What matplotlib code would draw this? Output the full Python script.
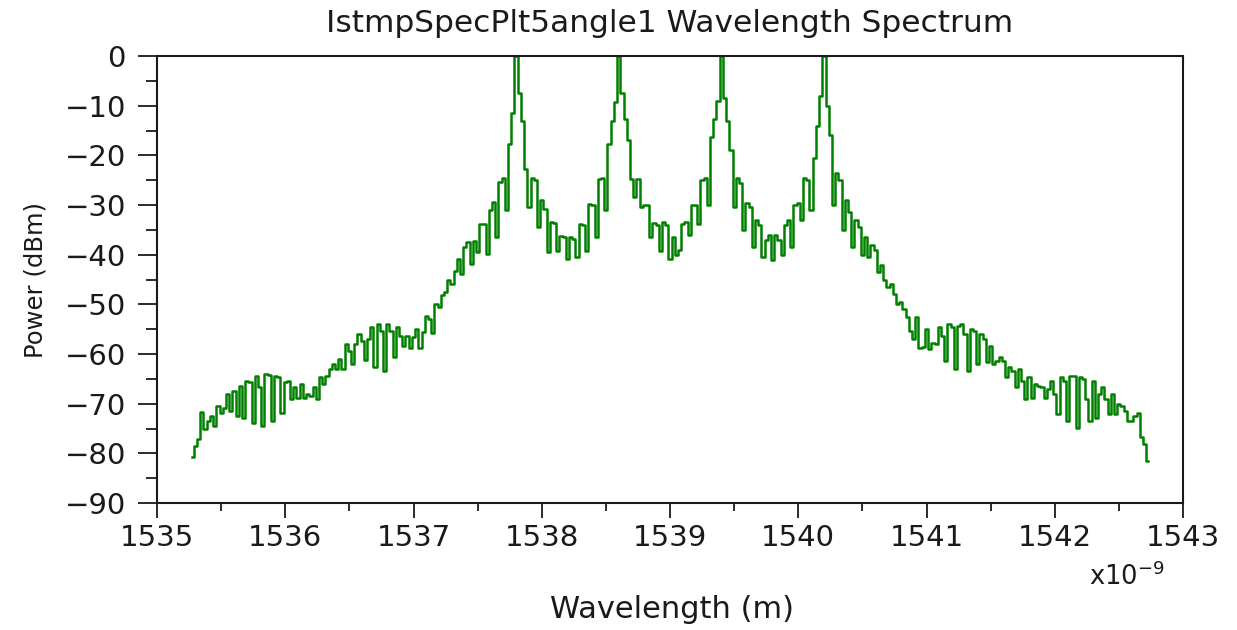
import matplotlib
matplotlib.use('Agg')
import matplotlib.pyplot as plt
import numpy as np
from matplotlib.ticker import MultipleLocator

plt.rcParams['font.family'] = ['DejaVu Sans']

# spectrum samples, 0.025 nm apart (wavelength in nm, power in dBm)
wl_start = 1535.275
wl_stop = 1542.725

power = [
    # left wing
    -80.8, -78.5, -77.1, -71.6, -75.1, -73.4, -72.4, -74.5, -70.4, -71.8,
    -70.8, -68.1, -71.4, -67.4, -72.4, -66.4, -72.8, -65.4, -65.7, -73.8,
    -64.4, -66.7, -74.5, -64.0, -64.2, -73.4, -64.4, -64.6, -71.8, -65.7,
    -65.4, -69.1, -66.7, -68.8, -66.1, -68.8, -68.1, -68.4, -66.7, -69.1,
    -64.7, -66.1,
    -64.5, -63.0, -62.0, -63.0, -61.0, -63.0, -58.0, -59.3, -62.0, -58.0,
    -56.0, -57.3, -61.3, -57.0, -54.6, -62.7, -54.0, -55.3, -63.4, -54.0,
    -55.3, -60.7, -54.6, -56.3, -58.3, -56.3, -58.7, -56.5,
    -55.0, -58.7, -55.5, -52.3, -53.0, -55.7, -49.9, -50.5, -48.2, -47.5,
    -45.2, -46.0, -43.2, -40.8, -43.8, -38.5, -37.5, -41.8, -37.2, -39.5,
    -33.8, -33.8, -39.8, -31.1, -29.4, -36.5, -25.4, -24.5, -31.1, -17.7,
    -11.5,
    # channel 1
    0.0,
    -7.5, -13.0, -22.7, -30.4, -24.6, -25.0, -34.5, -29.0, -30.8, -39.5,
    -33.5, -33.7, -39.2, -36.2, -36.5, -40.9, -36.5, -36.8, -40.5, -33.8,
    -34.0, -39.2, -29.8, -30.0, -36.5, -24.7, -24.5, -31.0, -17.7, -13.0, -9.3,
    # channel 2
    0.0,
    -7.5, -12.6, -17.0, -24.7, -28.4, -24.7, -30.4, -30.0, -30.0, -36.5,
    -33.7, -34.0, -39.2, -33.5, -34.0, -40.9, -36.5, -40.0, -39.0, -33.8,
    -33.5, -36.0, -30.0, -30.0, -33.8, -25.0, -24.5, -30.0, -16.3, -12.6, -9.0,
    # channel 3
    0.0,
    -8.5, -13.0, -19.0, -30.5, -24.5, -25.5, -35.0, -29.5, -30.5, -38.5,
    -33.0, -34.0, -40.5, -37.0, -36.0, -41.0, -36.0, -37.0, -40.0, -34.0,
    -33.0, -38.5, -30.0, -29.5, -33.0, -24.5, -25.0, -31.0, -20.5, -14.0, -8.0,
    # channel 4
    0.0,
    # right wing
    -10.0, -16.0, -30.0, -23.5, -25.0, -35.0, -29.0, -31.5, -38.5, -33.0,
    -34.5, -40.0, -36.5, -40.5, -38.0, -39.0, -43.5, -42.0,
    -45.2, -46.5, -46.0, -47.9, -49.9, -49.5, -51.0, -52.6, -55.3, -57.0,
    -52.6, -58.7, -58.5, -55.0, -59.0, -57.7, -58.0, -54.6, -56.3, -61.4,
    -54.0, -54.6, -63.0, -54.3, -54.0, -56.0, -63.4, -55.0, -55.3, -62.0,
    -56.0, -57.0, -61.7, -58.3, -62.0, -61.4, -60.7, -61.5, -64.7, -62.7,
    -63.4, -66.7, -63.0, -65.4, -69.1, -64.7, -68.8, -66.1, -66.5, -66.7,
    -68.8, -67.0, -65.4, -68.1, -72.1, -64.7, -65.4, -73.4, -64.4, -64.5,
    -74.8, -64.7, -65.0, -69.0, -73.4, -65.4, -72.8, -68.1, -66.7, -69.0,
    -72.1, -68.1, -72.1, -70.0, -70.4, -71.4, -73.4, -73.4, -72.5, -71.8,
    -76.8, -78.1, -81.5,
]

wavelength = np.linspace(wl_start, wl_stop, len(power))

fig = plt.figure(figsize=(12.37, 6.30), dpi=100)
ax = fig.add_axes([157 / 1237, 1 - 503 / 630, 1026 / 1237, 447 / 630])

ax.plot(wavelength, power, color='#008000', lw=1.8, drawstyle='steps-mid')

ax.set_xlim(1535, 1543)
ax.set_ylim(-90, 0)
ax.xaxis.set_major_locator(MultipleLocator(1))
ax.xaxis.set_minor_locator(MultipleLocator(0.5))
ax.yaxis.set_major_locator(MultipleLocator(10))
ax.yaxis.set_minor_locator(MultipleLocator(5))

for s in ax.spines.values():
    s.set_linewidth(1.5)
    s.set_color('#1a1a1a')

ax.tick_params(axis='y', which='major', direction='out', length=13.5, width=1.3,
               labelsize=21, pad=9, colors='#1a1a1a')
ax.tick_params(axis='y', which='minor', direction='out', length=8, width=1.3,
               colors='#1a1a1a')
ax.tick_params(axis='x', which='major', direction='out', length=11, width=1.3,
               labelsize=21, pad=4, colors='#1a1a1a')
ax.tick_params(axis='x', which='minor', direction='out', length=6, width=1.3,
               colors='#1a1a1a')

ax.set_title('IstmpSpecPlt5angle1 Wavelength Spectrum', fontsize=22.5, pad=17,
             color='#1a1a1a')
ax.set_ylabel('Power (dBm)', fontsize=17.5, color='#1a1a1a')
ax.yaxis.set_label_coords(-0.107, 0.5)
ax.set_xlabel('Wavelength (m)', fontsize=22, color='#1a1a1a')
ax.xaxis.set_label_coords(0.502, -0.205)

# axis multiplier for metres
ax.text(0.982, -0.166, r'x10$^{\mathregular{-9}}$', transform=ax.transAxes,
        ha='right', va='center', fontsize=18.5, color='#1a1a1a')

fig.savefig('out.png', dpi=100)
